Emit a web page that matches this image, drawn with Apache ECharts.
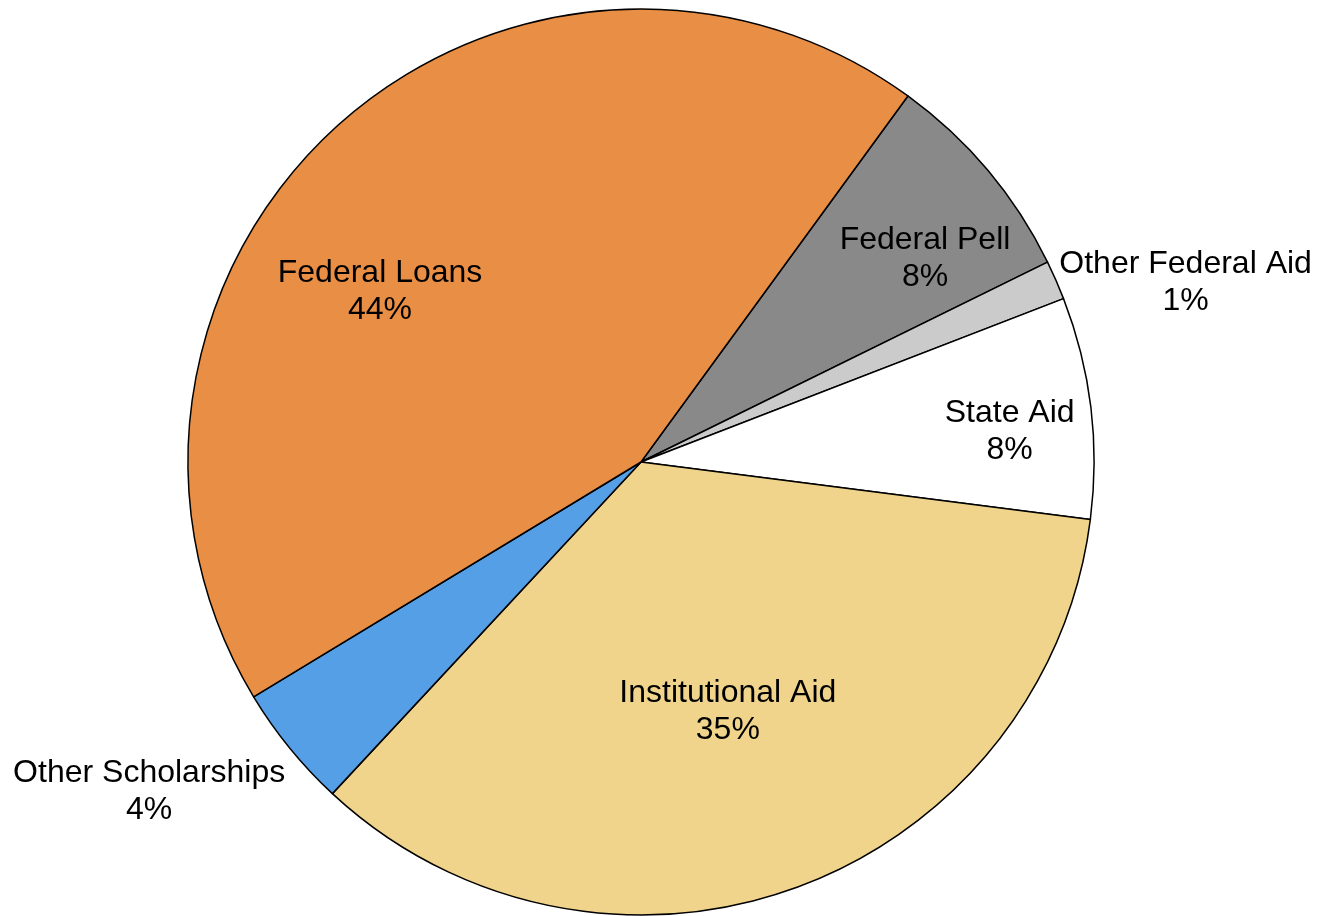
<!DOCTYPE html>
<html>
<head>
<meta charset="utf-8">
<script src="https://cdn.jsdelivr.net/npm/echarts@6/dist/echarts.min.js"></script>
<style>html,body{margin:0;padding:0;background:#fff;}#chart{width:1318px;height:916px;}</style>
</head>
<body>
<div id="chart"></div>
<script>
const categories = ['Federal Pell', 'Other Federal Aid', 'State Aid', 'Institutional Aid', 'Other Scholarships', 'Federal Loans'];
const values = [7.7, 1.4, 7.9, 34.9, 4.4, 43.7];
const colors = ['#898989', '#CBCBCB', '#FFFFFF', '#F1D48C', '#559FE6', '#E98E45'];
// label placement in polar terms (angle in degrees, fraction of radius)
const labelAngles = [35.8, 18.4, 5.0, -70.7, 213.7, 146.6];
const labelRadii = [0.773, 1.267, 0.817, 0.58, 1.305, 0.69];

const CX = 641, CY = 462, R = 453;
const chart = echarts.init(document.getElementById('chart'), null, {renderer: 'canvas'});
chart.setOption({
  animation: false,
  backgroundColor: '#ffffff',
  series: [{
    type: 'pie',
    center: [CX, CY],
    radius: R,
    startAngle: 53.9,
    clockwise: true,
    avoidLabelOverlap: false,
    data: categories.map((c, i) => ({name: c, value: values[i], itemStyle: {color: colors[i]}})),
    itemStyle: {borderColor: '#000', borderWidth: 1.5},
    emphasis: {disabled: true},
    label: {
      show: true,
      position: 'inside',
      color: '#000',
      fontFamily: 'Liberation Sans, Arial, sans-serif',
      fontSize: 32,
      lineHeight: 37,
      align: 'center',
      formatter: p => p.name + '\n' + Math.round(p.percent) + '%'
    },
    labelLine: {show: false},
    labelLayout: function (params) {
      const i = params.dataIndex;
      const a = labelAngles[i] * Math.PI / 180;
      return {
        x: CX + R * labelRadii[i] * Math.cos(a),
        y: CY - R * labelRadii[i] * Math.sin(a) + 2,
        align: 'center',
        verticalAlign: 'middle'
      };
    }
  }]
});
</script>
</body>
</html>
